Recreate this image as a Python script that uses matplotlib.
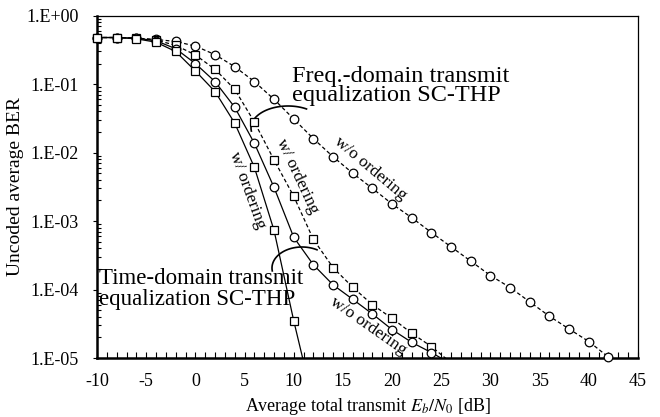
import numpy as np
import matplotlib
matplotlib.use("Agg")
import matplotlib.pyplot as plt
from matplotlib.ticker import FixedLocator, FixedFormatter, MultipleLocator, NullFormatter

plt.rcParams['font.family'] = ['Liberation Serif', 'DejaVu Serif']
plt.rcParams['mathtext.fontset'] = 'stix'
plt.rcParams['axes.unicode_minus'] = False

# Average total transmit Eb/N0 [dB]
snr_fd_wo = list(range(-10, 44, 2))
snr_fd_w = list(range(-10, 28, 2))
snr_td_wo = list(range(-10, 28, 2))
snr_td_w = list(range(-10, 14, 2))

# Uncoded average BER
ber_fd_wo = [0.48, 0.48, 0.47, 0.45, 0.42, 0.36, 0.27, 0.18, 0.109, 0.060, 0.031,
             0.016, 8.7e-3, 5.0e-3, 3.0e-3, 1.78e-3, 1.12e-3, 6.8e-4, 4.2e-4,
             2.6e-4, 1.6e-4, 1.07e-4, 6.6e-5, 4.07e-5, 2.65e-5, 1.74e-5, 1.03e-5]
ber_fd_w = [0.48, 0.48, 0.47, 0.44, 0.37, 0.267, 0.165, 0.084, 0.028, 7.8e-3,
            2.3e-3, 5.4e-4, 2.09e-4, 1.08e-4, 6.0e-5, 3.8e-5, 2.3e-5, 1.47e-5, 8.5e-6]
ber_td_wo = [0.48, 0.48, 0.47, 0.43, 0.33, 0.20, 0.109, 0.046, 0.0137, 3.1e-3,
             5.8e-4, 2.3e-4, 1.17e-4, 7.2e-5, 4.4e-5, 2.6e-5, 1.69e-5, 1.2e-5, 8.2e-6]
ber_td_w = [0.48, 0.48, 0.46, 0.41, 0.30, 0.156, 0.078, 0.027, 6.1e-3, 7.3e-4,
            3.5e-5, 2.2e-6]

x_ticks = [-10, -5, 0, 5, 10, 15, 20, 25, 30, 35, 40, 45]
y_ticks = [1e-5, 1e-4, 1e-3, 1e-2, 1e-1, 1e0]
y_labels = ["1.E-05", "1.E-04", "1.E-03", "1.E-02", "1.E-01", "1.E+00"]

fig = plt.figure(figsize=(6.6, 4.17), dpi=100)
L, R, T, B = 97, 638, 15.7, 358
ax = fig.add_axes([L / 660, 1 - B / 417, (R - L) / 660, (B - T) / 417])


def px(x, y):
    # pixel position in the picture -> axes fraction
    return (x - L) / (R - L), (B - y) / (B - T)


ymin = 1e-5
dash = (0, (3, 2))
series = [
    (snr_fd_wo, ber_fd_wo, 'o', dash),
    (snr_fd_w, ber_fd_w, 's', dash),
    (snr_td_wo, ber_td_wo, 'o', '-'),
    (snr_td_w, ber_td_w, 's', '-'),
]
for xs, ys, mk, ls in series:
    ax.plot(xs, ys, color='black', linestyle=ls, lw=0.9, zorder=2)
    xs_in = [a for a, b in zip(xs, ys) if b >= ymin * 0.999]
    ys_in = [b for b in ys if b >= ymin * 0.999]
    ax.plot(xs_in, ys_in, linestyle='none', marker=mk, ms=6.2, mfc='white',
            mec='black', mew=0.9, clip_on=False, zorder=3)

ax.set_yscale('log')
ax.set_xlim(-10, 45)
ax.set_ylim(1e-5, 1)
ax.xaxis.set_major_locator(FixedLocator(x_ticks))
ax.xaxis.set_minor_locator(MultipleLocator(1))
ax.yaxis.set_major_locator(FixedLocator(y_ticks))
ax.yaxis.set_major_formatter(FixedFormatter(y_labels))
ax.yaxis.set_minor_formatter(NullFormatter())
ax.tick_params(axis='x', which='both', direction='in', length=4, width=0.8,
               labelsize=13, pad=11)
ax.tick_params(axis='y', which='major', direction='out', length=3, width=0.8,
               labelsize=13, pad=10)
ax.tick_params(axis='y', which='minor', direction='in', length=3, width=0.8)
for s in ['left', 'bottom']:
    ax.spines[s].set_linewidth(1.8)
for s in ['top', 'right']:
    ax.spines[s].set_linewidth(0.9)

ax.set_xlabel("Average total transmit $E_b/N_0$ [dB]", fontsize=13, labelpad=4)
ax.set_ylabel("Uncoded average BER", fontsize=14, labelpad=2)

# group labels
x0, y0 = px(292, 66)
ax.text(x0, y0, "Freq.-domain transmit\nequalization SC-THP", transform=ax.transAxes,
        fontsize=17.5, va='top', ha='left', linespacing=0.86)
x0, y0 = px(99, 268.5)
ax.text(x0, y0, "Time-domain transmit\nequalization SC-THP", transform=ax.transAxes,
        fontsize=16.5, va='top', ha='left', linespacing=0.95)

# curve labels
for txt, cx, cy, rot in [("w/ ordering", 247, 190, -70),
                         ("w/ ordering", 297, 176, -65),
                         ("w/o ordering", 370, 169, -40),
                         ("w/o ordering", 368, 326, -35)]:
    fx, fy = px(cx, cy)
    ax.text(fx, fy, txt, transform=ax.transAxes, fontsize=12.5, rotation=rot,
            ha='center', va='center', rotation_mode='anchor')

# bracket arcs
for cx, cy, a, b in [(288, 128, 37, 22), (302, 268, 30, 21)]:
    t = np.radians(np.linspace(60, 188, 60))
    xa, ya = px(cx + a * np.cos(t), cy - b * np.sin(t))
    ax.plot(xa, ya, color='black', lw=1.2, transform=ax.transAxes, clip_on=False)

fig.savefig("out.png", dpi=100)
